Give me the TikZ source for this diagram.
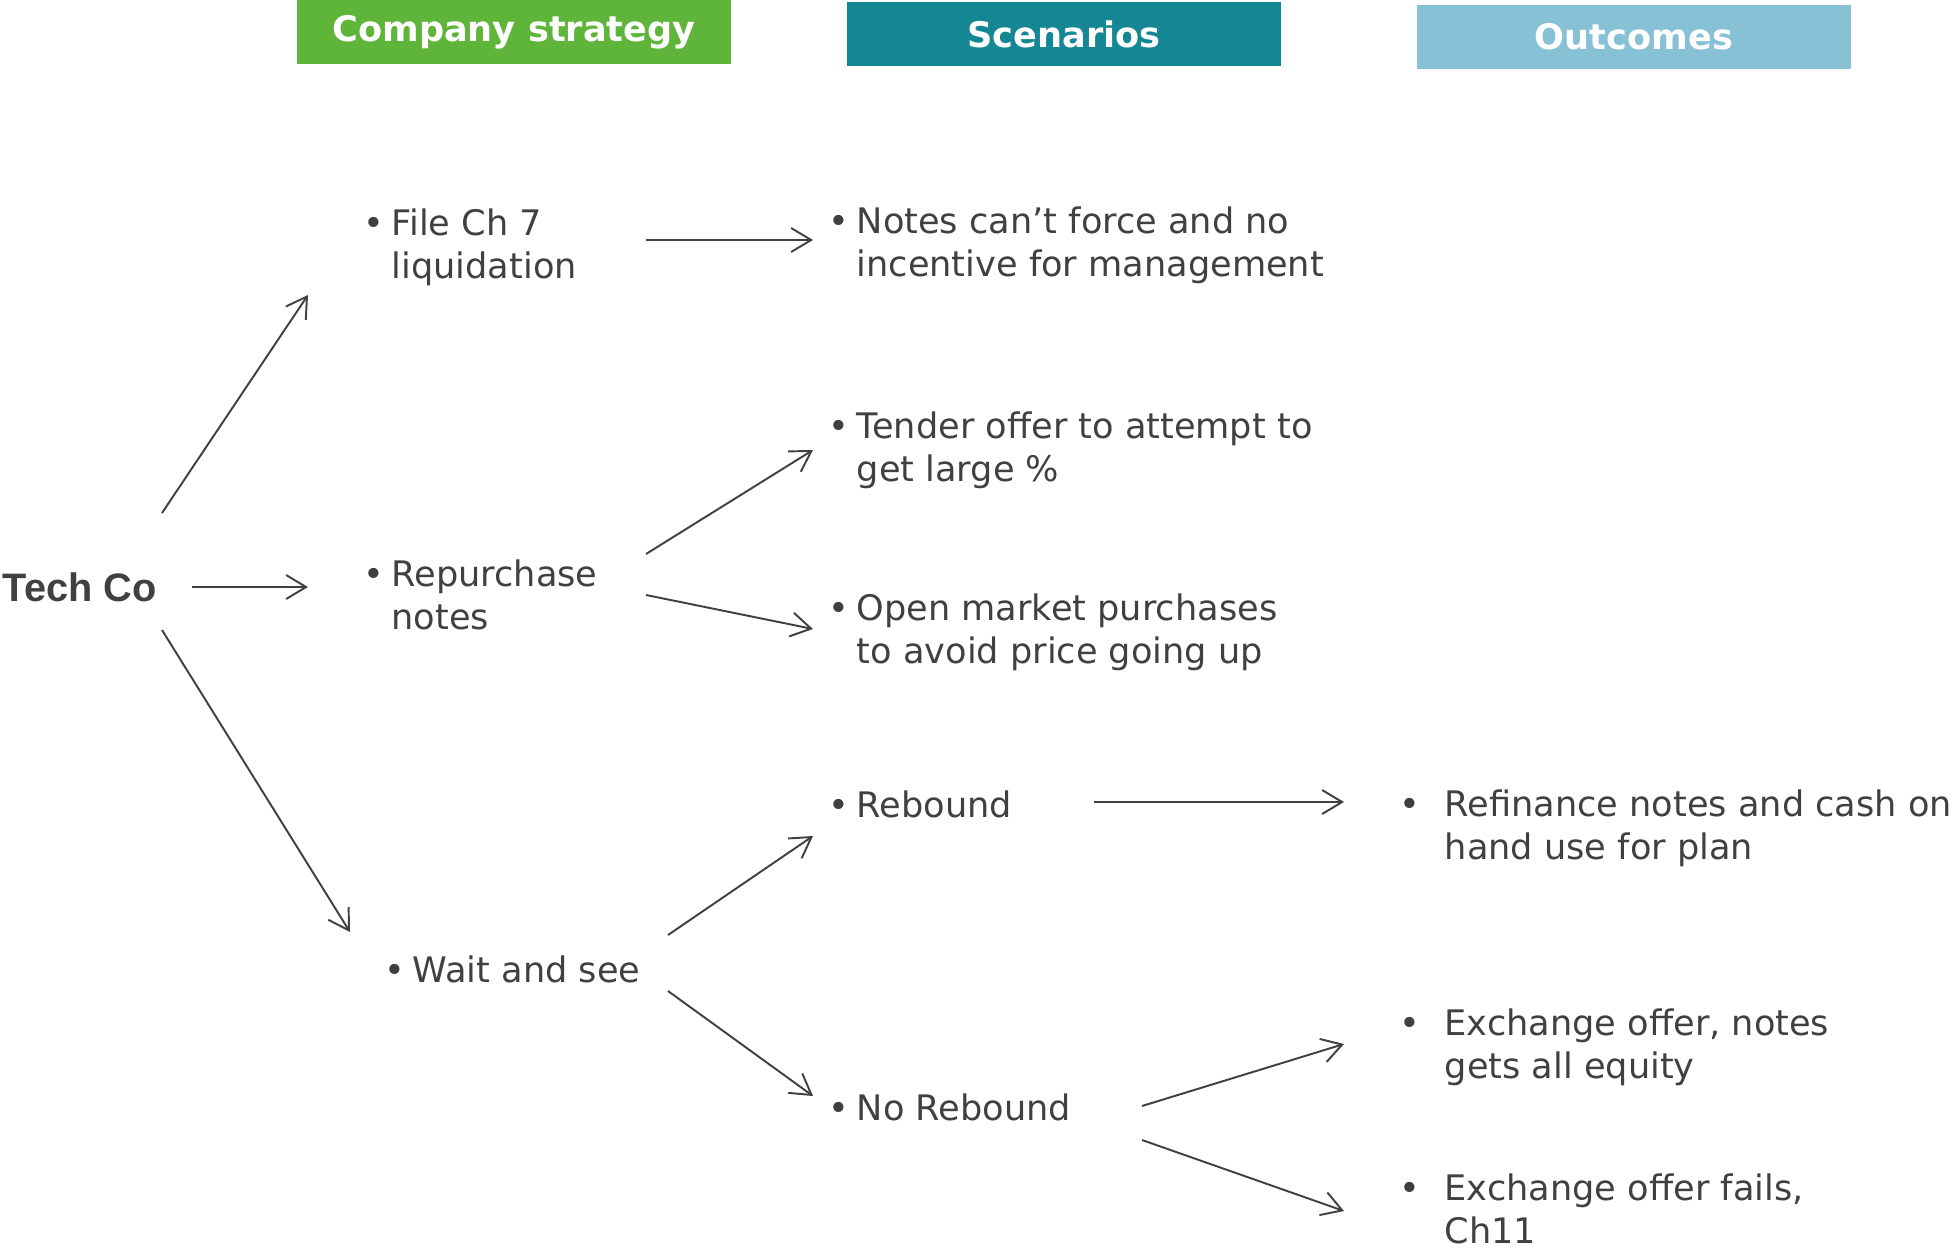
\documentclass[tikz,border=0pt]{standalone}
\usepackage{fontspec}
\setmainfont{DejaVu Sans}
\newfontfamily\techfont{Liberation Sans}
\usetikzlibrary{arrows.meta}

\definecolor{stratgreen}{RGB}{95,180,58}
\definecolor{scenteal}{RGB}{21,134,148}
\definecolor{outblue}{RGB}{134,193,214}
\definecolor{txtgray}{RGB}{64,64,64}

\tikzset{
	item/.style={anchor=base west, inner sep=0pt, align=left, text=txtgray, font=\fontsize{10}{12}\selectfont},
	head/.style={minimum width=43.4mm, minimum height=6.4mm, inner sep=0pt, text=white, font=\bfseries\fontsize{10}{12}\selectfont},
	arr/.style={-{Straight Barb[length=2mm,width=2.4mm]}, draw=txtgray, line width=0.55pt},
}
\newcommand{\bul}{\llap{\textbullet\hspace{0.7mm}}}
\newcommand{\obul}{\llap{\textbullet\hspace{2.4mm}}}

\begin{document}
\begin{tikzpicture}[x=0.1mm,y=-0.1mm]
	\useasboundingbox (0,0) rectangle (1953,1252);
	
	% column heads
	\node [head, fill=stratgreen] (hstrat) at (514,32) {Company strategy};
	\node [head, fill=scenteal] (hscen) at (1064,34) {Scenarios};
	\node [head, fill=outblue] (hout) at (1634,37) {Outcomes};
	
	\node [item, font=\techfont\bfseries\fontsize{11.3}{13}\selectfont] (tech) at (2,601) {Tech Co};
	
	% strategy (base = last line)
	\node [item] (file) at (391,278) {\bul File Ch 7\\liquidation};
	\node [item] (repo) at (391,629) {\bul Repurchase\\notes};
	\node [item] (wait) at (412,982) {\bul Wait and see};
	
	% scenarios
	\node [item] (notes) at (856,276) {\bul Notes can't force and no\\incentive for management};
	\node [item] (tender) at (856,481) {\bul Tender offer to attempt to\\get large \%};
	\node [item] (open) at (856,663) {\bul Open market purchases\\to avoid price going up};
	\node [item] (rebound) at (856,817) {\bul Rebound};
	\node [item] (norebound) at (856,1120) {\bul No Rebound};
	
	% outcomes
	\node [item] (refin) at (1444,859) {\obul Refinance notes and cash on\\hand use for plan};
	\node [item] (exchok) at (1444,1078) {\obul Exchange offer, notes\\gets all equity};
	\node [item] (exchfail) at (1444,1243) {\obul Exchange offer fails,\\Ch11};
	
	\draw [arr] ([shift={(160,-88)}]tech.base west) -- ([shift={(-83,17)}]file.base west);
	\draw [arr] ([shift={(190,-14)}]tech.base west) -- ([shift={(-83,-42)}]repo.base west);
	\draw [arr] ([shift={(160,29)}]tech.base west) -- ([shift={(-62,-50)}]wait.base west);
	
	\draw [arr] ([shift={(255,-38)}]file.base west) -- ([shift={(-43,-36)}]notes.base west);
	\draw [arr] ([shift={(255,-75)}]repo.base west) -- ([shift={(-43,-31)}]tender.base west);
	\draw [arr] ([shift={(255,-34)}]repo.base west) -- ([shift={(-43,-34)}]open.base west);
	\draw [arr] ([shift={(256,-47)}]wait.base west) -- ([shift={(-43,19)}]rebound.base west);
	\draw [arr] ([shift={(256,9)}]wait.base west) -- ([shift={(-43,-24)}]norebound.base west);
	
	\draw [arr] ([shift={(238,-15)}]rebound.base west) -- ([shift={(-100,-57)}]refin.base west);
	\draw [arr] ([shift={(286,-14)}]norebound.base west) -- ([shift={(-100,-34)}]exchok.base west);
	\draw [arr] ([shift={(286,20)}]norebound.base west) -- ([shift={(-100,-32)}]exchfail.base west);
\end{tikzpicture}
\end{document}
